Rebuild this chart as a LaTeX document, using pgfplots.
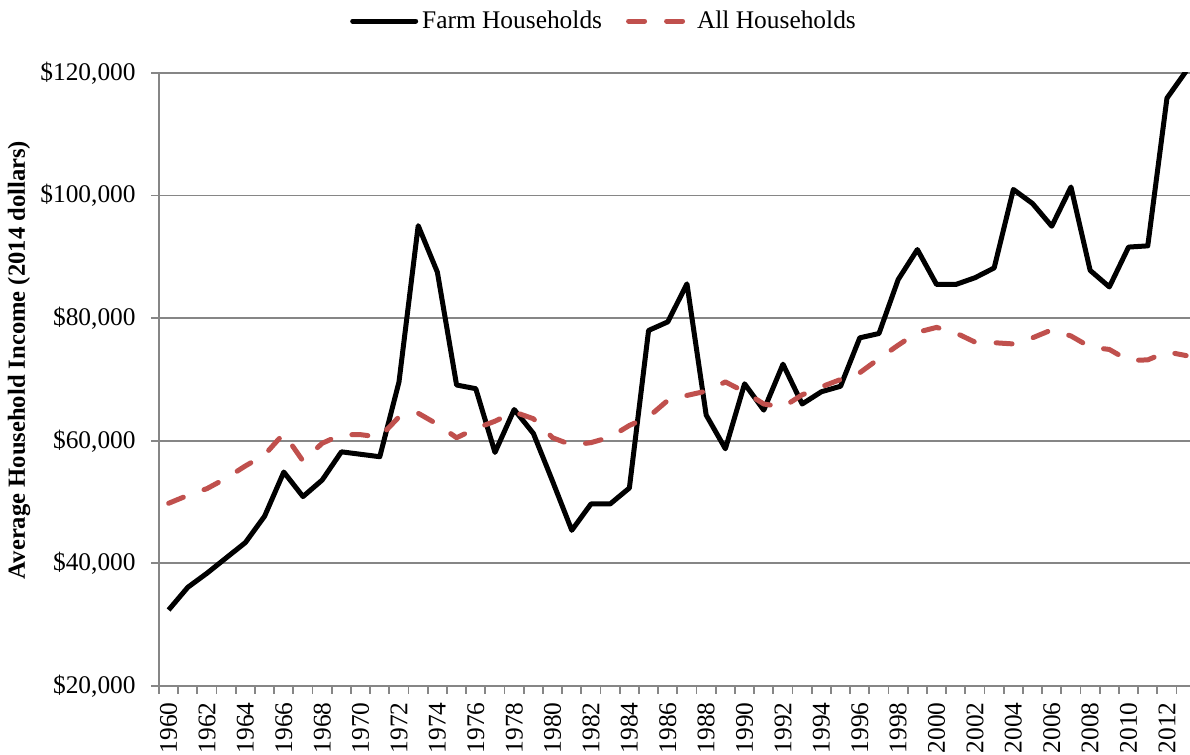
\documentclass[border=0pt]{standalone}
\usepackage{fontspec}
\setmainfont{Liberation Serif}
\usepackage{pgfplots}
\pgfplotsset{compat=1.18}
\usepackage{pgfplotstable}
\definecolor{exred}{HTML}{C0504D}
\definecolor{exgray}{HTML}{868686}

\pgfplotstableread{
year farm
1960 32400
1961 36100
1962 38400
1963 40900
1964 43400
1965 47700
1966 54900
1967 50900
1968 53600
1969 58200
1970 57800
1971 57400
1972 69600
1973 95100
1974 87500
1975 69100
1976 68500
1977 58100
1978 65100
1979 61200
1980 53400
1981 45400
1982 49700
1983 49700
1984 52300
1985 78000
1986 79400
1987 85600
1988 64200
1989 58700
1990 69300
1991 65000
1992 72500
1993 66000
1994 68000
1995 68900
1996 76800
1997 77500
1998 86300
1999 91200
2000 85500
2001 85500
2002 86600
2003 88200
2004 101000
2005 98700
2006 95000
2007 101400
2008 87800
2009 85100
2010 91600
2011 91800
2012 115900
2013 120300
}\farmtable

\pgfplotstableread{
year all
1960 49800
1961 51100
1962 52200
1963 53900
1964 55900
1965 57700
1966 61200
1967 56700
1968 59600
1969 61000
1970 61000
1971 60600
1972 63900
1973 64500
1974 62700
1975 60500
1976 62000
1977 63200
1978 64700
1979 63600
1980 60500
1981 59300
1982 59700
1983 60600
1984 62500
1985 63900
1986 66600
1987 67400
1988 68100
1989 69600
1990 68000
1991 66000
1992 65500
1993 67500
1994 68800
1995 70000
1996 71100
1997 73400
1998 75600
1999 77700
2000 78500
2001 77600
2002 76100
2003 76000
2004 75800
2005 76800
2006 78100
2007 77100
2008 75300
2009 74900
2010 73100
2011 73200
2012 74500
2013 73900
}\alltable

\begin{document}
\begin{tikzpicture}[font=\fontsize{12.7pt}{15pt}\selectfont]
\begin{axis}[
  at={(79.5pt,34.5pt)}, anchor=south west,
  scale only axis,
  width=515.5pt, height=306.5pt,
  xmin=1959.5, xmax=2013.2,
  ymin=20000, ymax=120000,
  axis x line*=bottom, axis y line*=left,
  axis line style={exgray, line width=0.9pt},
  tick align=outside,
  major tick length=4pt,
  scaled y ticks=false,
  scaled x ticks=false,
  xtick={1959.5,1960.5,...,2013.5},
  xticklabels={},
  extra x ticks={1960,1962,...,2012},
  extra x tick labels={1960,1962,1964,1966,1968,1970,1972,1974,1976,1978,1980,1982,1984,1986,1988,1990,1992,1994,1996,1998,2000,2002,2004,2006,2008,2010,2012},
  extra x tick style={tick style={draw=none}, grid=none},
  tick style={exgray, line width=0.9pt},
  xticklabel style={rotate=90, anchor=east, inner sep=0pt},
  xticklabel shift=4pt,
  ytick={20000,40000,...,120000},
  yticklabels={{\$20,000},{\$40,000},{\$60,000},{\$80,000},{\$100,000},{\$120,000}},
  yticklabel style={anchor=east, inner sep=0pt},
  yticklabel shift=7.5pt,
  ymajorgrids,
  major grid style={exgray, line width=0.9pt},
  ylabel={Average Household Income (2014 dollars)},
  ylabel style={at={(axis description cs:-0.1358,0.5318)}, anchor=center, font=\bfseries\fontsize{12.3pt}{15pt}\selectfont},
  legend style={at={(axis description cs:0.4326,1.0848)}, anchor=center, draw=none, fill=none,
    /tikz/every even column/.append style={column sep=10pt}},
  legend columns=2,
  legend cell align=left,
]
\addplot[black, line width=2.5pt, line join=round,
  legend image code/.code={\draw[black, line width=2.5pt, line cap=round] (0pt,0pt) -- (31.5pt,0pt);}]
  table[x=year, y=farm] {\farmtable};
\addlegendentry{Farm Households}
\addplot[exred, line width=2.5pt, line cap=round, line join=round, dash pattern=on 8pt off 11pt,
  legend image code/.code={\draw[exred, line width=2.5pt, line cap=round, dash pattern=on 8pt off 11pt] (0pt,0pt) -- (28pt,0pt);}]
  table[x=year, y=all] {\alltable};
\addlegendentry{\hspace{3pt}All Households}
\end{axis}
\pgfresetboundingbox
\useasboundingbox (0,0) rectangle (595pt,377.5pt);
\end{tikzpicture}
\end{document}
